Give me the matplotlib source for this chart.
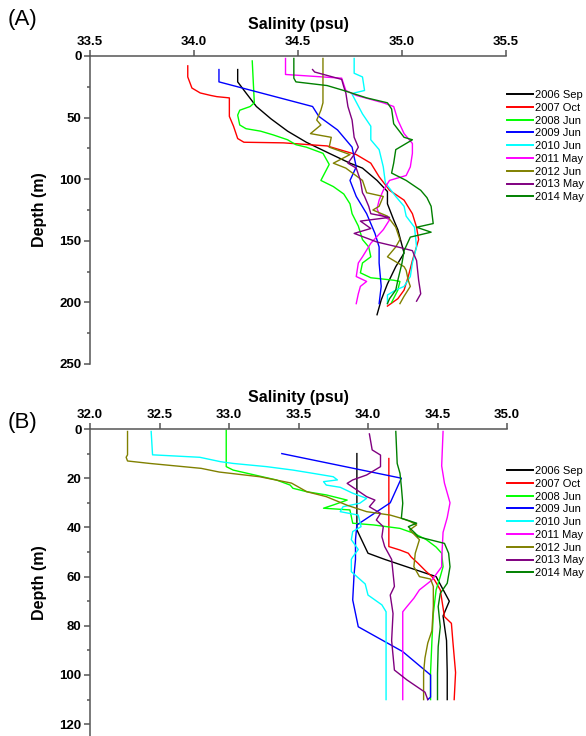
import matplotlib.pyplot as plt
from matplotlib.ticker import MultipleLocator

plt.rcParams['font.family'] = ['Liberation Sans', 'DejaVu Sans']

Labels = ["2006 Sep", "2007 Oct", "2008 Jun", "2009 Jun", "2010 Jun",
          "2011 May", "2012 Jun", "2013 May", "2014 May"]
Colors = ["#000000", "#ff0000", "#00ff00", "#0000ff", "#00ffff",
          "#ff00ff", "#808000", "#800080", "#008000"]

# ---- (A) profiles: depth (m) / salinity (psu) ----
a_depth_2006 = [11, 21, 30, 41, 51, 61, 70, 79, 87, 91, 101, 110, 120, 133, 141, 160, 171, 185, 198, 210]
a_sal_2006 = [34.21, 34.21, 34.25, 34.30, 34.37, 34.45, 34.54, 34.65, 34.75, 34.81, 34.88, 34.93, 34.93,
              34.96, 34.98, 35.01, 34.97, 34.93, 34.90, 34.88]

a_depth_2007 = [8, 17, 26, 30, 32, 33, 34, 49, 57, 67, 70, 70.5, 73, 76, 80, 87, 98, 109, 117, 128, 139,
                149, 166, 179, 190, 197, 203]
a_sal_2007 = [33.97, 33.97, 33.99, 34.03, 34.08, 34.11, 34.17, 34.17, 34.19, 34.21, 34.24, 34.43, 34.64,
              34.70, 34.78, 34.85, 34.89, 34.94, 35.01, 35.05, 35.07, 35.08, 35.05, 35.03, 35.01, 34.98, 34.93]

a_depth_2008 = [4, 38, 41, 44, 48, 56, 59, 61, 64, 68, 72, 74, 79, 88, 101, 106, 112, 120, 128, 138, 149,
                155, 163, 168, 176, 180, 182, 183, 190, 200]
a_sal_2008 = [34.28, 34.29, 34.27, 34.22, 34.21, 34.22, 34.25, 34.32, 34.38, 34.45, 34.49, 34.54, 34.62,
              34.65, 34.61, 34.67, 34.72, 34.75, 34.76, 34.79, 34.81, 34.84, 34.85, 34.81, 34.80, 34.85,
              34.96, 34.99, 34.98, 34.95]

a_depth_2009 = [11, 21, 41, 49, 60, 74, 90, 101, 114, 128, 144, 155, 168, 187, 201]
a_sal_2009 = [34.12, 34.12, 34.57, 34.60, 34.69, 34.76, 34.78, 34.75, 34.78, 34.83, 34.87, 34.89, 34.89,
              34.90, 34.89]

a_depth_2010 = [2, 14, 17, 28, 30, 31, 47, 57, 68, 76, 90, 103, 114, 122, 130, 139, 155, 168, 179, 187,
                190, 194, 201]
a_sal_2010 = [34.77, 34.77, 34.81, 34.82, 34.77, 34.76, 34.81, 34.85, 34.85, 34.89, 34.91, 34.92, 34.97,
              35.01, 35.02, 35.06, 35.07, 35.05, 35.04, 35.01, 34.97, 34.93, 34.93]

a_depth_2011 = [2, 15, 18, 28, 32, 38, 41, 52, 63, 71, 79, 90, 97, 101, 109, 117, 124, 128, 133, 141, 152,
                163, 168, 179, 183, 187, 193, 201]
a_sal_2011 = [34.44, 34.44, 34.71, 34.73, 34.78, 34.91, 34.96, 34.98, 35.01, 35.05, 35.05, 35.04, 35.02,
              34.94, 34.91, 34.89, 34.88, 34.89, 34.94, 34.91, 34.85, 34.81, 34.79, 34.78, 34.83, 34.80,
              34.79, 34.78]

a_depth_2012 = [2, 38, 44, 52, 56, 63, 66, 74, 80, 87, 91, 101, 111, 114, 122, 125, 130, 139, 149, 155,
                163, 171, 174, 182, 187, 195, 201]
a_sal_2012 = [34.62, 34.62, 34.61, 34.59, 34.61, 34.56, 34.66, 34.65, 34.75, 34.67, 34.73, 34.81, 34.83,
              34.91, 34.89, 34.86, 34.93, 34.97, 34.99, 34.97, 34.93, 35.01, 35.02, 35.03, 35.04, 35.01, 34.99]

a_depth_2013 = [11, 13, 19, 25, 30, 41, 52, 66, 74, 80, 87, 91, 101, 111, 114, 122, 128, 131, 134, 140,
                144, 151, 155, 158, 166, 182, 193, 199]
a_sal_2013 = [34.57, 34.58, 34.71, 34.72, 34.73, 34.74, 34.76, 34.77, 34.79, 34.77, 34.74, 34.78, 34.80,
              34.81, 34.82, 34.84, 34.85, 34.94, 34.80, 34.85, 34.77, 34.88, 34.98, 35.05, 35.07, 35.08,
              35.09, 35.07]

a_depth_2014 = [2, 18, 21, 24, 28, 34, 38, 43, 55, 66, 68, 71, 76, 87, 95, 101, 109, 115, 122, 136, 139,
                143, 147, 158, 168, 182, 190, 197, 201]
a_sal_2014 = [34.48, 34.48, 34.49, 34.64, 34.72, 34.83, 34.93, 34.95, 34.96, 35.01, 35.05, 35.02, 34.97,
              34.96, 34.95, 35.02, 35.09, 35.12, 35.14, 35.15, 35.07, 35.14, 35.04, 35.01, 35.00, 34.98,
              34.97, 34.94, 34.93]

# ---- (B) profiles ----
b_depth_2006 = [10, 38.3, 41, 50.5, 53, 58.7, 60, 70, 76, 86, 99, 110]
b_sal_2006 = [33.92, 33.92, 33.92, 34.00, 34.12, 34.42, 34.49, 34.585, 34.54, 34.565, 34.57, 34.57]

b_depth_2007 = [12, 47.8, 49.2, 50.5, 52, 54.6, 58, 60, 61.5, 65.4, 76.3, 79, 86, 99, 110]
b_sal_2007 = [34.15, 34.15, 34.23, 34.29, 34.31, 34.36, 34.42, 34.46, 34.48, 34.52, 34.55, 34.60, 34.61,
              34.63, 34.62]

b_depth_2008 = [0.5, 15.3, 16.7, 20.7, 22.8, 24.1, 25.5, 26.8, 28.9, 30.9, 32.2, 32.9, 38.3, 39, 40.4,
                42.4, 45, 48, 50.5, 56, 60, 65.4, 75, 86, 99, 110]
b_sal_2008 = [32.98, 32.98, 33.03, 33.34, 33.44, 33.46, 33.56, 33.70, 33.85, 33.75, 33.68, 33.87, 33.89,
              34.04, 34.23, 34.33, 34.42, 34.49, 34.53, 34.54, 34.52, 34.49, 34.47, 34.46, 34.45, 34.45]

b_depth_2009 = [10, 20, 30, 39, 45, 53, 59, 69.5, 80.4, 90.5, 100, 109, 110]
b_sal_2009 = [33.38, 34.24, 34.16, 33.92, 33.91, 33.91, 33.90, 33.89, 33.93, 34.25, 34.45, 34.45, 34.43]

b_depth_2010 = [1, 10.5, 11.5, 13.3, 14, 15.3, 16.7, 17.8, 19.4, 20.7, 21.4, 22.8, 23.7, 26.1, 28.2, 30.2,
                31.6, 33.6, 35, 39.7, 41.7, 45, 49, 52, 53, 58, 60, 63, 67.5, 71.5, 74.3, 86, 110]
b_sal_2010 = [32.44, 32.45, 32.79, 32.94, 33.03, 33.27, 33.46, 33.58, 33.75, 33.78, 33.68, 33.70, 33.80,
              33.89, 33.99, 33.94, 33.82, 33.80, 33.93, 33.95, 33.89, 33.88, 33.93, 33.89, 33.88, 33.88,
              33.92, 33.98, 34.00, 34.10, 34.13, 34.13, 34.13]

b_depth_2011 = [1, 15, 22, 30, 36, 42, 53, 56, 61.4, 65.4, 68.8, 72.2, 74.3, 86, 110]
b_sal_2011 = [34.54, 34.53, 34.55, 34.59, 34.57, 34.54, 34.53, 34.53, 34.46, 34.37, 34.33, 34.28, 34.25,
              34.25, 34.25]

b_depth_2012 = [1, 10.5, 11.5, 13, 14, 16, 17.5, 19.4, 22, 25.5, 27.5, 31, 33.6, 35, 36.3, 37.5, 39, 41,
                45, 50.5, 56, 60, 61, 64, 72, 82, 87, 93, 99, 110]
b_sal_2012 = [32.27, 32.27, 32.26, 32.27, 32.43, 32.80, 32.93, 33.22, 33.45, 33.56, 33.70, 33.85, 33.99,
              34.16, 34.24, 34.30, 34.35, 34.30, 34.37, 34.34, 34.33, 34.37, 34.45, 34.47, 34.47, 34.46,
              34.43, 34.41, 34.40, 34.40]

b_depth_2013 = [2, 8.5, 10.6, 15.3, 18.7, 20.7, 22.1, 24.8, 27.5, 28.9, 31.6, 34.3, 37, 39.7, 43.8, 47.8,
                53, 64, 67.5, 75, 86, 98, 102, 107, 110]
b_sal_2013 = [34.01, 34.03, 34.09, 34.09, 33.99, 33.89, 33.85, 33.92, 33.99, 34.05, 34.01, 34.09, 34.06,
              34.11, 34.10, 34.12, 34.17, 34.19, 34.16, 34.18, 34.17, 34.19, 34.28, 34.41, 34.43]

b_depth_2014 = [1, 14, 18, 23.4, 30.2, 36.3, 37, 38.3, 39.7, 42.4, 43.8, 46.5, 50.5, 56, 62.7, 66.8, 72.2,
                80.4, 88.5, 99.3, 110]
b_sal_2014 = [34.20, 34.21, 34.23, 34.24, 34.25, 34.24, 34.28, 34.35, 34.29, 34.34, 34.36, 34.55, 34.58,
              34.59, 34.57, 34.52, 34.505, 34.52, 34.505, 34.50, 34.50]

ProfilesA = [(a_sal_2006, a_depth_2006), (a_sal_2007, a_depth_2007), (a_sal_2008, a_depth_2008),
             (a_sal_2009, a_depth_2009), (a_sal_2010, a_depth_2010), (a_sal_2011, a_depth_2011),
             (a_sal_2012, a_depth_2012), (a_sal_2013, a_depth_2013), (a_sal_2014, a_depth_2014)]
ProfilesB = [(b_sal_2006, b_depth_2006), (b_sal_2007, b_depth_2007), (b_sal_2008, b_depth_2008),
             (b_sal_2009, b_depth_2009), (b_sal_2010, b_depth_2010), (b_sal_2011, b_depth_2011),
             (b_sal_2012, b_depth_2012), (b_sal_2013, b_depth_2013), (b_sal_2014, b_depth_2014)]

W, H = 586, 736
AXIS_GRAY = "#555555"


def Draw(ax, profiles, xlim, ylim, ymajor, yminor, legend_top):
    for (sal, depth), color, label in zip(profiles, Colors, Labels):
        ax.plot(sal, depth, color=color, lw=1.0, label=label)
    ax.set_xlim(*xlim)
    ax.set_ylim(*ylim)

    # salinity axis sits on top, depth increases downwards
    ax.xaxis.tick_top()
    ax.xaxis.set_label_position('top')
    ax.xaxis.set_major_locator(MultipleLocator(0.5))
    ax.xaxis.set_major_formatter(plt.FormatStrFormatter('%.1f'))
    ax.yaxis.set_major_locator(MultipleLocator(ymajor))
    ax.yaxis.set_minor_locator(MultipleLocator(yminor))

    for side in ['bottom', 'right']:
        ax.spines[side].set_visible(False)
    for side in ['top', 'left']:
        ax.spines[side].set_color(AXIS_GRAY)
        ax.spines[side].set_linewidth(1.1)
    ax.tick_params(which='major', length=4, width=1.1, color=AXIS_GRAY, pad=2,
                   labelsize=9.5)
    ax.tick_params(which='minor', length=2.5, width=1.1, color=AXIS_GRAY)
    for lab in ax.get_xticklabels() + ax.get_yticklabels():
        lab.set_fontweight('bold')

    ax.set_xlabel("Salinity (psu)", fontsize=11.5, fontweight='bold', labelpad=5)
    ax.set_ylabel("Depth (m)", fontsize=11.5, fontweight='bold', labelpad=9)

    leg = ax.legend(loc='upper left', bbox_to_anchor=(507 / W, 1 - legend_top / H),
                    bbox_transform=ax.figure.transFigure, frameon=False, fontsize=8,
                    borderpad=0, borderaxespad=0, labelspacing=0.25, handlelength=2.3,
                    handletextpad=0.2)
    for line in leg.get_lines():
        line.set_linewidth(1.4)


fig = plt.figure(figsize=(W / 100, H / 100), dpi=100)

axA = fig.add_axes([90 / W, 1 - 364 / H, 416 / W, 308 / H])
Draw(axA, ProfilesA, (33.5, 35.5), (250, 0), 50, 25, 90)

axB = fig.add_axes([90 / W, 0, 417 / W, 307 / H])
Draw(axB, ProfilesB, (32.0, 35.0), (124.8, 0), 20, 10, 466)

fig.text(8 / W, 1 - 20 / H, "(A)", fontsize=16, va='center', ha='left')
fig.text(8 / W, 1 - 422 / H, "(B)", fontsize=16, va='center', ha='left')

fig.savefig("out.png", dpi=100)
